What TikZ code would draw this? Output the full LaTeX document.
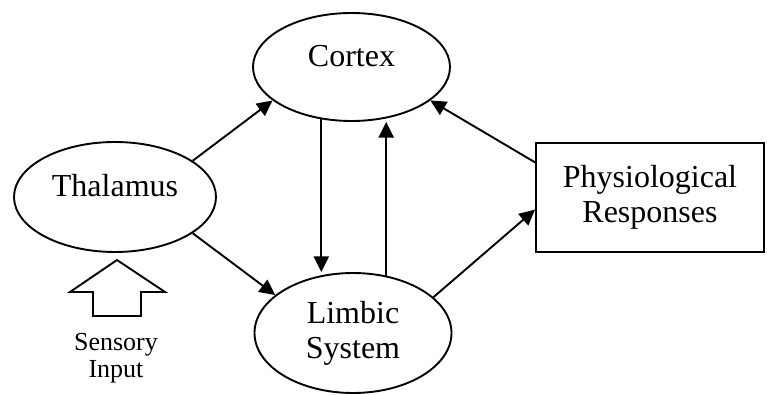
\documentclass[tikz,border=0pt]{standalone}
\usepackage{fontspec}
\setmainfont{Liberation Serif}
\usepackage{tikz}
\usetikzlibrary{arrows.meta,shapes.geometric}

\begin{document}
\begin{tikzpicture}[x=0.5pt, y=-0.5pt, line width=0.95pt,
    oval/.style={ellipse, draw, inner sep=0pt, align=center, font=\fontsize{16}{17.5}\selectfont},
    midline/.style={text height=0.68em, text depth=0.68em},
    flow/.style={-{Triangle[length=7.8pt,width=7.5pt]}}]
  \useasboundingbox (0,0) rectangle (767,395);
  % brain regions
  \node[oval, midline, minimum width=98.5pt, minimum height=54pt] (cortex) at (351.5,67) {Cortex};
  \node[oval, midline, minimum width=101pt, minimum height=55pt] (thalamus) at (115,197) {Thalamus};
  \node[oval, minimum width=98.5pt, minimum height=60pt] (limbic) at (353,333) {Limbic\\System};
  \node[draw, inner sep=0pt, align=center, font=\fontsize{16}{17.5}\selectfont,
        minimum width=114pt, minimum height=54.5pt] (phys) at (650,197.5) {Physiological\\Responses};
  % sensory input
  \draw (93,316) -- (93,292) -- (70,292) -- (117,260) -- (165,292) -- (141,292) -- (141,316) -- cycle;
  \node[align=center, font=\fontsize{13}{13.5}\selectfont] (sensory) at (116,358) {Sensory\\Input};
  % pathways
  \draw[flow] (thalamus.25) -- (cortex.203);
  \draw[flow] (thalamus.-25) -- (limbic.154);
  \draw[flow] (cortex.240) -- (cortex.240 |- limbic.north);
  \draw[flow] (limbic.60) -- (limbic.60 |- cortex.south);
  \draw[flow] (limbic.24) -- (phys.186);
  \draw[flow] (phys.163) -- (cortex.-23);
\end{tikzpicture}
\end{document}
